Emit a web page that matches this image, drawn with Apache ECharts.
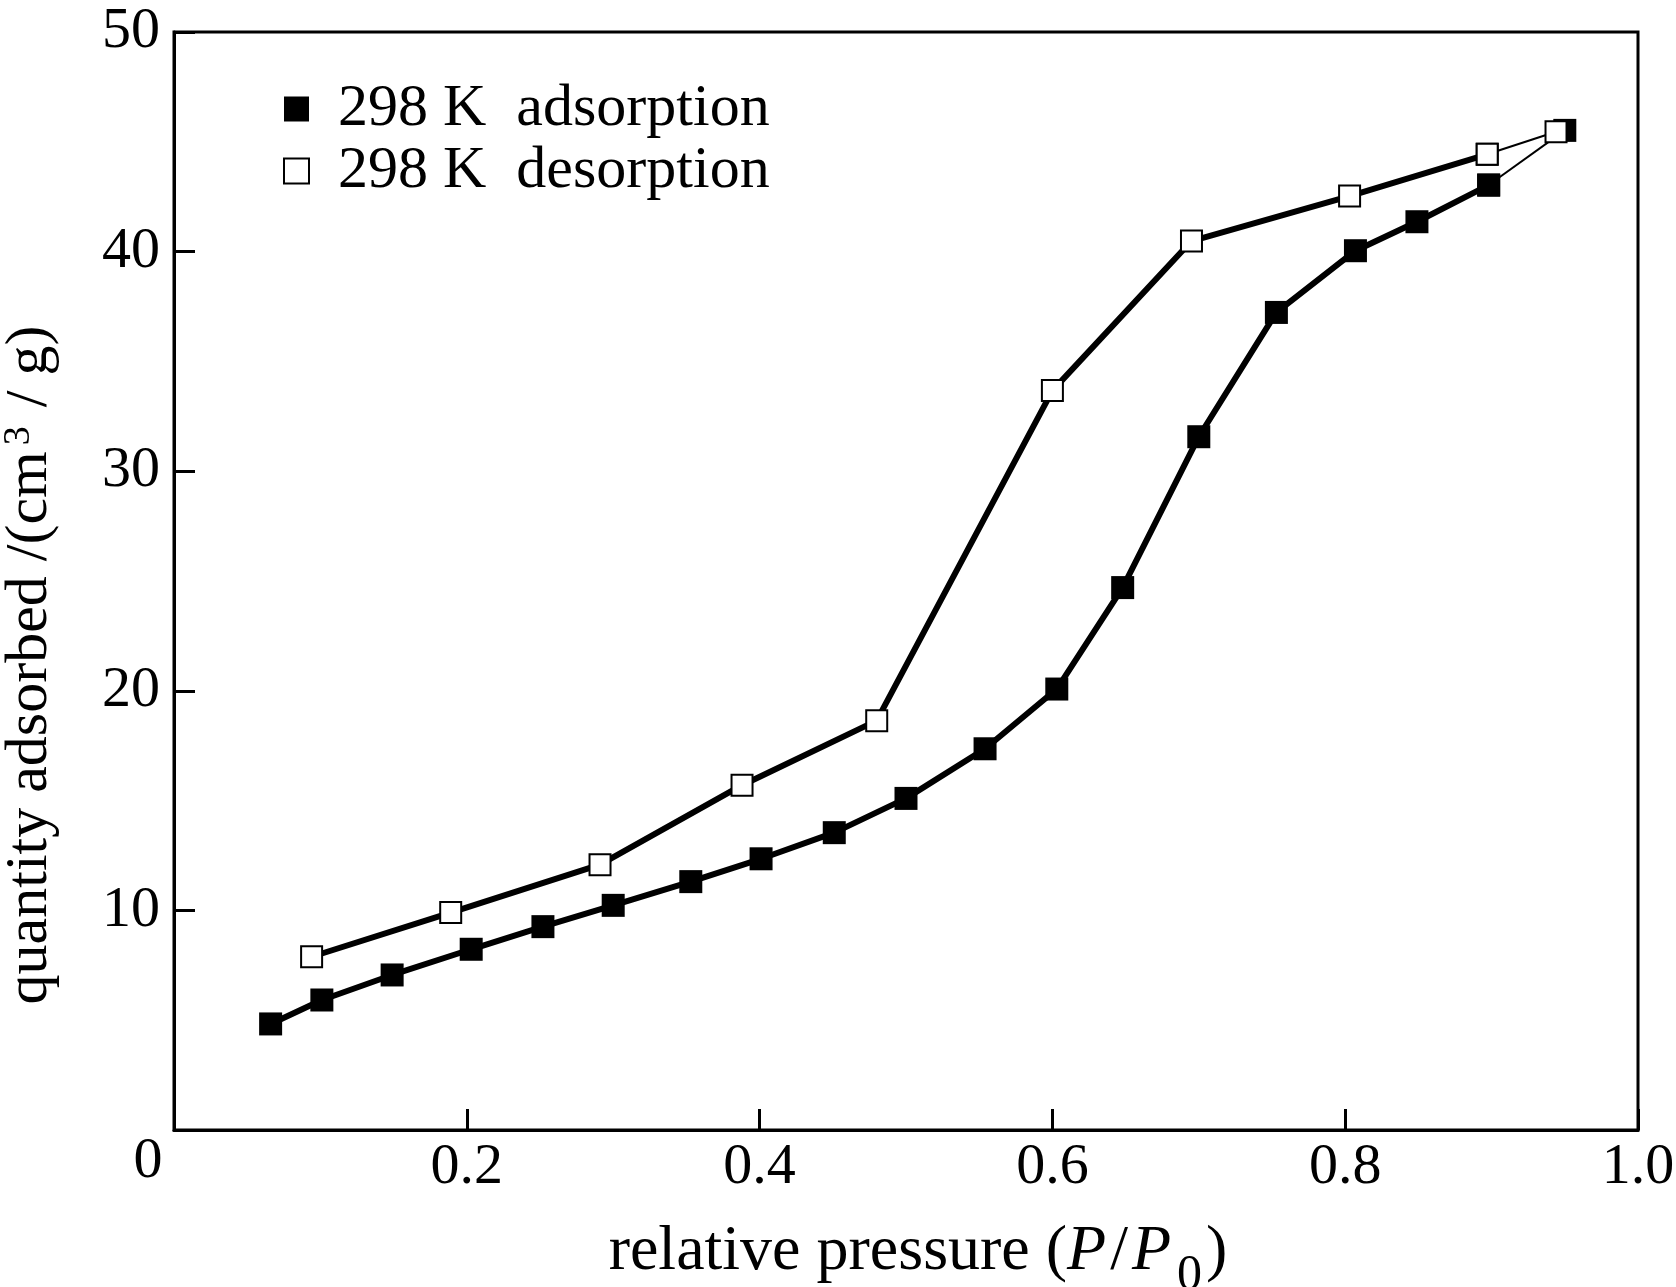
<!DOCTYPE html>
<html>
<head>
<meta charset="utf-8">
<script src="https://cdn.jsdelivr.net/npm/echarts@6/dist/echarts.min.js"></script>
<style>
html,body{margin:0;padding:0;background:#fff;}
#chart{width:1676px;height:1287px;}
</style>
</head>
<body>
<div id="chart"></div>
<script>
// ---- data ----
const adsName = '298 K  adsorption';
const desName = '298 K  desorption';
const adsX = [0.066, 0.101, 0.149, 0.203, 0.252, 0.300, 0.353, 0.401, 0.451, 0.500, 0.554, 0.603, 0.648, 0.700, 0.753, 0.807, 0.849, 0.898, 0.950];
const adsY = [4.83, 5.92, 7.06, 8.23, 9.26, 10.23, 11.31, 12.35, 13.54, 15.10, 17.36, 20.08, 24.70, 31.57, 37.23, 40.04, 41.36, 43.03, 45.52];
const desX = [0.944, 0.897, 0.803, 0.695, 0.600, 0.480, 0.388, 0.291, 0.189, 0.094];
const desY = [45.46, 44.43, 42.53, 40.48, 33.67, 18.64, 15.70, 12.08, 9.90, 7.89];
const xTickLabels = ['0', '0.2', '0.4', '0.6', '0.8', '1.0'];
const yTickLabels = ['0', '10', '20', '30', '40', '50'];
const xTitle = 'relative pressure ({i|P}{s|/}{i|P}{sub|0})';
const yTitle = 'quantity adsorbed /(cm{sup|3} / g)';

const FONT = "'Liberation Serif', 'Times New Roman', serif";
const adsPts = adsX.map((x, i) => [x, adsY[i]]);
const desPts = desX.map((x, i) => [x, desY[i]]);

const chart = echarts.init(document.getElementById('chart'), null, {renderer: 'canvas'});

const axisCommon = {
  axisLine: {show: true, lineStyle: {color: '#000', width: 3}},
  axisTick: {show: true, inside: true, length: 21, lineStyle: {color: '#000', width: 3}},
  splitLine: {show: false}
};

const option = {
  animation: false,
  backgroundColor: '#fff',
  grid: {
    left: 174, right: 38, top: 32, bottom: 157,
    show: true, borderColor: '#000', borderWidth: 3,
    containLabel: false, outerBoundsMode: 'none'
  },
  legend: {
    orient: 'vertical',
    left: 283, top: 78,
    padding: 0,
    itemGap: 0,
    itemWidth: 25, itemHeight: 25,
    textStyle: {fontFamily: FONT, fontSize: 60, color: '#000', lineHeight: 62, padding: [0, 0, 0, 24]},
    data: [
      {name: adsName, icon: 'rect', itemStyle: {color: '#000', borderWidth: 0}},
      {name: desName, icon: 'rect', itemStyle: {color: '#fff', borderColor: '#000', borderWidth: 2}}
    ]
  },
  xAxis: Object.assign({}, axisCommon, {
    type: 'value', min: 0, max: 1, interval: 0.2,
    name: xTitle, nameLocation: 'middle', nameGap: 58,
    nameTextStyle: {
      fontFamily: FONT, fontSize: 64, color: '#000', lineHeight: 100, padding: [0, 0, 0, 24],
      rich: {
        i: {fontFamily: FONT, fontSize: 64, fontStyle: 'italic', color: '#000', lineHeight: 100},
        s: {fontFamily: FONT, fontSize: 64, color: '#000', lineHeight: 100, padding: [0, 4, 0, 4]},
        sub: {fontFamily: FONT, fontSize: 50, color: '#000', lineHeight: 50, verticalAlign: 'top', padding: [49, 4, 0, 6]}
      }
    },
    axisLabel: {
      margin: 9, fontFamily: FONT, fontSize: 58, color: '#000', hideOverlap: false,
      formatter: function (v) {
        const idx = Math.round(v / 0.2);
        if (idx === 0) return '{o|' + xTickLabels[0] + '}';
        return xTickLabels[idx];
      },
      rich: {
        o: {fontFamily: FONT, fontSize: 58, color: '#000', lineHeight: 46, padding: [0, 52, 0, 0]}
      }
    }
  }),
  yAxis: Object.assign({}, axisCommon, {
    type: 'value', min: 0, max: 50, interval: 10,
    name: yTitle, nameLocation: 'middle', nameGap: 114,
    nameTextStyle: {
      fontFamily: FONT, fontSize: 60, color: '#000', lineHeight: 60, padding: [0, 168, 0, 0],
      rich: {
        sup: {fontFamily: FONT, fontSize: 38, color: '#000', lineHeight: 34, verticalAlign: 'top', padding: [0, 4, 0, 6]}
      }
    },
    axisLabel: {
      margin: 14, fontFamily: FONT, fontSize: 58, color: '#000', showMinLabel: false,
      formatter: function (v) { return yTickLabels[Math.round(v / 10)]; }
    }
  }),
  series: [
    {
      name: adsName, type: 'line', data: adsPts.slice(0, -1),
      symbol: 'rect', symbolSize: 23, showAllSymbol: true,
      lineStyle: {color: '#000', width: 6},
      itemStyle: {color: '#000', borderWidth: 0},
      emphasis: {disabled: true}, z: 2
    },
    {
      name: 'adsTail', type: 'line', data: adsPts.slice(-2),
      symbol: 'rect', symbolSize: 23,
      lineStyle: {color: '#000', width: 2},
      itemStyle: {color: '#000', borderWidth: 0},
      emphasis: {disabled: true}, z: 2
    },
    {
      name: 'desTail', type: 'line', data: desPts.slice(0, 2),
      symbol: 'rect', symbolSize: 21,
      lineStyle: {color: '#000', width: 2},
      itemStyle: {color: '#fff', borderColor: '#000', borderWidth: 2},
      emphasis: {disabled: true}, z: 3
    },
    {
      name: desName, type: 'line', data: desPts.slice(1),
      symbol: 'rect', symbolSize: 21, showAllSymbol: true,
      lineStyle: {color: '#000', width: 6},
      itemStyle: {color: '#fff', borderColor: '#000', borderWidth: 2},
      emphasis: {disabled: true}, z: 3
    }
  ]
};
chart.setOption(option);
</script>
</body>
</html>
